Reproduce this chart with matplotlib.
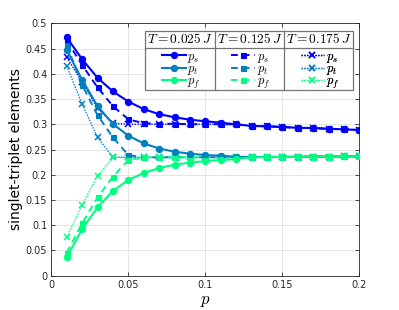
import matplotlib
matplotlib.use("Agg")
import matplotlib.pyplot as plt
from matplotlib.patches import Rectangle

plt.rcParams['mathtext.fontset'] = 'cm'
plt.rcParams['font.family'] = ['DejaVu Sans']

p = [0.01, 0.02, 0.03, 0.04, 0.05, 0.06, 0.07, 0.08, 0.09, 0.10,
     0.11, 0.12, 0.13, 0.14, 0.15, 0.16, 0.17, 0.18, 0.19, 0.20]

ps_025 = [0.472, 0.429, 0.392, 0.365, 0.345, 0.330, 0.320, 0.314, 0.309, 0.306,
          0.303, 0.300, 0.2966, 0.296, 0.2946, 0.293, 0.2926, 0.291, 0.290, 0.2886]
pt_025 = [0.447, 0.388, 0.336, 0.3005, 0.2774, 0.262, 0.252, 0.2457, 0.2417, 0.239,
          0.2377, 0.2357, 0.2350, 0.2352, 0.2355, 0.2357, 0.2359, 0.2361, 0.2363, 0.2365]
pf_025 = [0.0364, 0.092, 0.1355, 0.168, 0.1896, 0.2035, 0.2134, 0.220, 0.224, 0.2272,
          0.229, 0.2312, 0.2345, 0.2350, 0.2352, 0.2355, 0.2358, 0.2360, 0.2363, 0.2365]

ps_125 = [0.4656, 0.4174, 0.373, 0.336, 0.3098, 0.302, 0.301, 0.301, 0.300, 0.300,
          0.300, 0.300, 0.2966, 0.296, 0.2946, 0.293, 0.2926, 0.291, 0.290, 0.2886]
pt_125 = [0.457, 0.378, 0.318, 0.274, 0.239, 0.2345, 0.2345, 0.2345, 0.2345, 0.2345,
          0.2345, 0.2345, 0.2350, 0.2352, 0.2355, 0.2357, 0.2359, 0.2361, 0.2363, 0.2365]
pf_125 = [0.0456, 0.1037, 0.155, 0.196, 0.229, 0.2345, 0.2345, 0.2345, 0.2345, 0.2345,
          0.2345, 0.2345, 0.2345, 0.2350, 0.2352, 0.2355, 0.2358, 0.2360, 0.2363, 0.2365]

ps_175 = [0.4326, 0.384, 0.3315, 0.302, 0.300, 0.300, 0.300, 0.300, 0.300, 0.300,
          0.300, 0.300, 0.2966, 0.296, 0.2946, 0.293, 0.2926, 0.291, 0.290, 0.2886]
pt_175 = [0.4155, 0.340, 0.274, 0.2345, 0.2345, 0.2345, 0.2345, 0.2345, 0.2345, 0.2345,
          0.2345, 0.2345, 0.2350, 0.2352, 0.2355, 0.2357, 0.2359, 0.2361, 0.2363, 0.2365]
pf_175 = [0.076, 0.140, 0.1975, 0.2345, 0.2345, 0.2345, 0.2345, 0.2345, 0.2345, 0.2345,
          0.2345, 0.2345, 0.2345, 0.2350, 0.2352, 0.2355, 0.2358, 0.2360, 0.2363, 0.2365]

temps = [r'$T = 0.025\,J$', r'$T = 0.125\,J$', r'$T = 0.175\,J$']
labels = [r'$p_s$', r'$p_t$', r'$p_f$']
xticks = [0, 0.05, 0.1, 0.15, 0.2]
xticklabels = ['0', '0.05', '0.1', '0.15', '0.2']
yticks = [0, 0.05, 0.1, 0.15, 0.2, 0.25, 0.3, 0.35, 0.4, 0.45, 0.5]
yticklabels = ['0', '0.05', '0.1', '0.15', '0.2', '0.25', '0.3', '0.35', '0.4', '0.45', '0.5']

colors = [(0, 0, 1), (0, 0.5, 0.75), (0, 1, 0.5)]
styles = [('-', 'o', 4.5, 1.5), ((0, (3.5, 2.5)), 's', 3.6, 1.4), ((0, (1, 1)), 'x', 3.8, 1.0)]
series = [[ps_025, pt_025, pf_025], [ps_125, pt_125, pf_125], [ps_175, pt_175, pf_175]]

fig = plt.figure(figsize=(3.99, 3.10), dpi=100)
ax = fig.add_axes([0.1286, 0.1106, 0.7719, 0.8142])

handles = []
for ti, group in enumerate(series):
    ls, mk, ms, lw = styles[ti]
    hs = []
    for ci, vals in enumerate(group):
        h, = ax.plot(p, vals, linestyle=ls, marker=mk, markersize=ms, linewidth=lw,
                     color=colors[ci], markeredgewidth=1.1 if mk == 'x' else 0.8,
                     zorder=3 - ti * 0.1)
        hs.append(h)
    handles.append(hs)

ax.set_xlim(0, 0.2)
ax.set_ylim(0, 0.5)
ax.set_xticks(xticks)
ax.set_xticklabels(xticklabels)
ax.set_yticks(yticks)
ax.set_yticklabels(yticklabels)
ax.tick_params(direction='in', top=True, right=True, length=3, width=0.6,
               labelsize=7, colors=(0.15, 0.15, 0.15), pad=3)
for s in ax.spines.values():
    s.set_color((0.15, 0.15, 0.15))
    s.set_linewidth(0.6)
ax.grid(True, color=(0.88, 0.88, 0.88), linewidth=0.6)
ax.set_axisbelow(True)
ax.set_xlabel(r'$p$', fontsize=12, labelpad=1)
ax.set_ylabel('singlet-triplet elements', fontsize=10, labelpad=2)

# table-style legend
x0, x1 = 0.305, 0.9805
y0, y1 = 0.7357, 0.9715
yh = 0.901
xs = [0.305, 0.530, 0.7555, 0.9805]
ax.add_patch(Rectangle((x0, y0), x1 - x0, y1 - y0, transform=ax.transAxes,
                       facecolor='white', edgecolor=(0.45, 0.45, 0.45), lw=0.9,
                       zorder=5, clip_on=False))
ax.plot([x0, x1], [yh, yh], transform=ax.transAxes, color=(0.45, 0.45, 0.45),
        lw=0.9, zorder=5.5, clip_on=False)
for xv in xs[1:-1]:
    ax.plot([xv, xv], [y0, y1], transform=ax.transAxes, color=(0.45, 0.45, 0.45),
            lw=0.9, zorder=5.5, clip_on=False)
for ti in range(3):
    cx = (xs[ti] + xs[ti + 1]) / 2
    ax.text(cx, (yh + y1) / 2, temps[ti], transform=ax.transAxes, ha='center',
            va='center', fontsize=9.6, zorder=6)
    leg = ax.legend(handles[ti], labels, loc='center', bbox_to_anchor=(cx + 0.005, (y0 + yh) / 2 - 0.005),
                    bbox_transform=ax.transAxes, frameon=False, fontsize=9,
                    handlelength=1.9, handletextpad=0.15, labelspacing=-0.2,
                    borderpad=0, borderaxespad=0)
    leg.set_zorder(7)
    ax.add_artist(leg)

fig.savefig('out.png', dpi=100)
